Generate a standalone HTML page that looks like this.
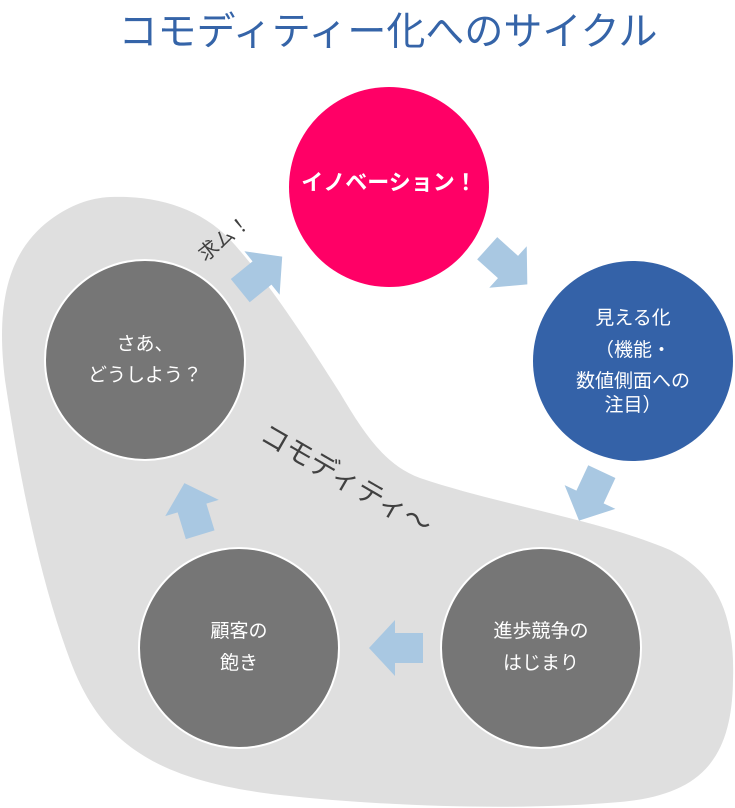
<!DOCTYPE html>
<html><head><meta charset="utf-8"><style>
html,body{margin:0;padding:0;background:#fff;}
svg{display:block;}
text{font-family:"Liberation Sans","Noto Sans CJK JP",sans-serif;}
</style></head><body>
<svg width="735" height="808" viewBox="0 0 735 808" xmlns="http://www.w3.org/2000/svg">
<defs>
<polygon id="arr" points="-28,-15 0,-15 0,-28 26,0 0,28 0,15 -28,15" fill="#a9c8e2"/>
</defs>
<text x="388" y="45" text-anchor="middle" font-size="39" fill="#3564a8">コモディティー化へのサイクル</text>
<path d="M110,197 C160,195 205,210 235,245 C270,285 300,330 340,393 C365,435 385,465 420,478 C500,505 600,520 670,550 C720,575 735,620 733,680 C732,760 700,795 620,802 C530,810 400,808 280,795 C150,780 100,740 70,660 C40,580 20,480 5,380 C-5,300 10,250 50,220 C70,205 90,198 110,197 Z" fill="#dfdfdf"/>
<circle cx="389" cy="187" r="100" fill="#ff0066"/>
<text x="389" y="190" text-anchor="middle" font-size="22" font-weight="bold" fill="#fff">イノベーション！</text>
<circle cx="633" cy="361" r="100" fill="#3462a8"/>
<g font-size="19" fill="#fff" text-anchor="middle">
<text x="633" y="324">見える化</text>
<text x="633" y="356">（機能・</text>
<text x="633" y="387">数値側面への</text>
<text x="633" y="411">注目）</text>
</g>
<circle cx="145" cy="360" r="100" fill="#767676" stroke="#fff" stroke-width="2"/>
<g font-size="19" fill="#fff" text-anchor="middle">
<text x="145" y="350">さあ、</text>
<text x="145" y="381">どうしよう？</text>
</g>
<circle cx="239" cy="648" r="100" fill="#767676" stroke="#fff" stroke-width="2"/>
<g font-size="19" fill="#fff" text-anchor="middle">
<text x="239" y="637">顧客の</text>
<text x="239" y="669">飽き</text>
</g>
<circle cx="541" cy="648" r="100" fill="#767676" stroke="#fff" stroke-width="2"/>
<g font-size="19" fill="#fff" text-anchor="middle">
<text x="541" y="637">進歩競争の</text>
<text x="541" y="669">はじまり</text>
</g>
<use href="#arr" transform="translate(262,273) rotate(-39)"/>
<use href="#arr" transform="translate(508,267) rotate(42)"/>
<use href="#arr" transform="translate(590,497) rotate(115)"/>
<use href="#arr" transform="translate(395,648) rotate(180)"/>
<use href="#arr" transform="translate(192,508) rotate(-107)"/>
<text font-size="20" fill="#404040" transform="translate(205,262) rotate(-38)">求ム！</text>
<text font-size="28" fill="#404040" transform="translate(258,440) rotate(30)">コモディティ〜</text>
</svg>
</body></html>
